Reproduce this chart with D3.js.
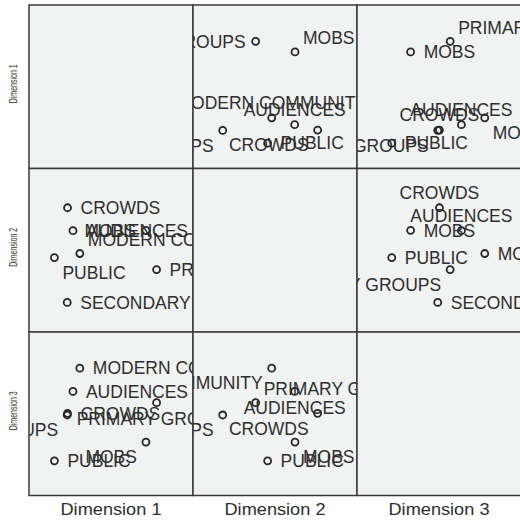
<!DOCTYPE html>
<html>
<head>
<meta charset="utf-8">
<script src="https://cdn.jsdelivr.net/npm/d3@7"></script>
<style>
  body { margin: 0; background: #fff; }
  text { font-family: "Liberation Sans", Arial, sans-serif; fill: #2e2e2e; }
</style>
</head>
<body>
<div id="chart-area"></div>
<script>
    // MDS object coordinates
    var objects = ['CROWDS', 'AUDIENCES', 'MOBS', 'PUBLIC', 'PRIMARY GROUPS', 'SECONDARY GROUPS', 'MODERN COMMUNITY'];
    var dim1 = [-0.53, -0.464, 0.426, -0.69, 0.556, -0.534, -0.38];
    var dim2 = [0.52, 0.24, 0.244, -0.09, -0.236, -0.638, -0.04];
    var dim3 = [0.005, 0.273, -0.346, -0.576, 0.136, -0.015, 0.558];
    var dimNames = ['Dimension 1', 'Dimension 2', 'Dimension 3'];
    var dims = [dim1, dim2, dim3];

    // where each point label sits, per cell (row-col), in object order
    var labelPlace = {
      '0-1': ['bl', 't', 'tr', 'r', 'l', 'bl', 't'],
      '0-2': ['t', 't', 'r', 'r', 'tr', 'bl', 'br'],
      '1-0': ['r', 'r', 'l', 'br', 'r', 'r', 'tr'],
      '1-2': ['t', 't', 'r', 'r', 'bl', 'r', 'r'],
      '2-0': ['r', 'r', 'bl', 'r', 'b', 'bl', 'r'],
      '2-1': ['bl', 'b', 'br', 'r', 'tr', 'bl', 'bl']
    };
    var offsets = {
      r:  { dx: 13, dy: 0, anchor: 'start' },
      l:  { dx: -10, dy: 0, anchor: 'end' },
      t:  { dx: 0, dy: -15, anchor: 'middle' },
      b:  { dx: 0, dy: 16, anchor: 'middle' },
      tr: { dx: 8, dy: -14, anchor: 'start' },
      br: { dx: 8, dy: 15, anchor: 'start' },
      bl: { dx: -9, dy: 15, anchor: 'end' }
    };

    var margin = { left: 29, top: 5 };
    var cellW = 164;
    var cellH = 163.5;

    var svg = d3.select('#chart-area')
      .append('svg')
      .attr('width', 520)
      .attr('height', 523);

    var xScale = d3.scaleLinear().domain([-1, 1]).range([0, cellW]);
    var yScale = d3.scaleLinear().domain([-1, 1]).range([cellH, 0]);

    var g = svg.append('g').attr('transform', `translate(${margin.left},${margin.top})`);

    for (var row = 0; row < 3; row++) {
      for (var col = 0; col < 3; col++) {
        var cell = g.append('g').attr('transform', `translate(${col * cellW},${row * cellH})`);
        var clipId = 'clip-' + row + '-' + col;

        cell.append('clipPath').attr('id', clipId)
          .append('rect').attr('width', cellW).attr('height', cellH);

        cell.append('rect')
          .attr('width', cellW)
          .attr('height', cellH)
          .attr('fill', '#f1f2f2');

        if (row !== col) {
          var xs = dims[col];
          var ys = dims[row];
          var place = labelPlace[row + '-' + col];
          var inner = cell.append('g').attr('clip-path', `url(#${clipId})`);

          inner.selectAll('circle')
            .data(objects)
            .enter()
            .append('circle')
            .attr('cx', (d, i) => xScale(xs[i]))
            .attr('cy', (d, i) => yScale(ys[i]))
            .attr('r', 3.5)
            .attr('fill', 'none')
            .attr('stroke', '#262626')
            .attr('stroke-width', 1.8);

          inner.selectAll('text')
            .data(objects)
            .enter()
            .append('text')
            .attr('x', (d, i) => xScale(xs[i]) + offsets[place[i]].dx)
            .attr('y', (d, i) => yScale(ys[i]) + offsets[place[i]].dy)
            .attr('dy', '0.36em')
            .attr('text-anchor', (d, i) => offsets[place[i]].anchor)
            .attr('font-size', '17.5px')
            .text(d => d);
        }

        cell.append('rect')
          .attr('width', cellW)
          .attr('height', cellH)
          .attr('fill', 'none')
          .attr('stroke', '#3a3a3a')
          .attr('stroke-width', 1.5);
      }
    }

    dimNames.forEach((name, i) => {
      g.append('text')
        .attr('x', i * cellW + cellW / 2)
        .attr('y', 3 * cellH + 19)
        .attr('text-anchor', 'middle')
        .attr('font-size', '17px')
        .attr('textLength', 101)
        .attr('lengthAdjust', 'spacingAndGlyphs')
        .text(name);

      g.append('text')
        .attr('transform', `translate(-12,${i * cellH + cellH / 2 - 3}) rotate(-90)`)
        .attr('text-anchor', 'middle')
        .attr('font-size', '10px')
        .attr('textLength', 39)
        .attr('lengthAdjust', 'spacingAndGlyphs')
        .text(name);
    });
</script>
</body>
</html>
